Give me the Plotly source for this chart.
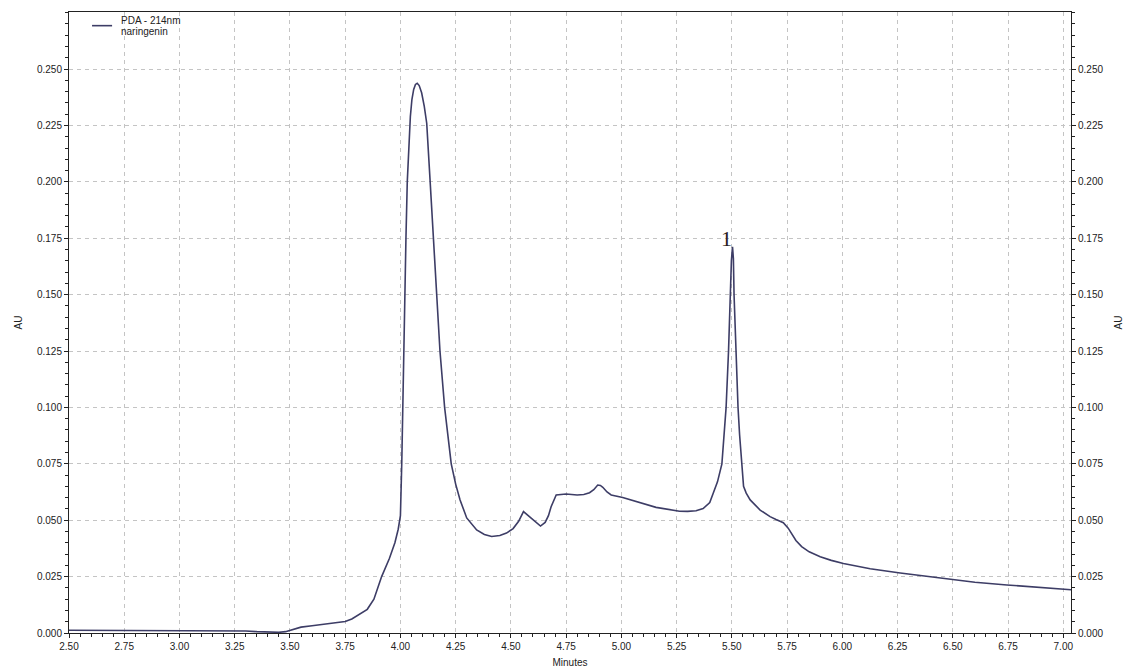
import plotly.graph_objects as go

# Retention time (minutes) and absorbance (AU)
time_min = [2.50, 2.75, 3.00, 3.25, 3.30, 3.35, 3.40, 3.45, 3.48, 3.50, 3.55, 3.60, 3.65, 3.70,
            3.75, 3.78, 3.81, 3.85, 3.88, 3.915, 3.95, 3.975, 3.99, 4.000, 4.006, 4.010, 4.016,
            4.021, 4.025, 4.031, 4.037, 4.045, 4.052, 4.060, 4.068, 4.076, 4.085, 4.096, 4.108,
            4.119, 4.134, 4.149, 4.164, 4.179, 4.200, 4.230, 4.250, 4.270, 4.300, 4.345, 4.380,
            4.413, 4.450, 4.480, 4.510, 4.535, 4.557, 4.580, 4.600, 4.634, 4.655, 4.670, 4.682,
            4.705, 4.750, 4.800, 4.830, 4.856, 4.875, 4.893, 4.905, 4.916, 4.935, 4.954, 5.006,
            5.082, 5.157, 5.263, 5.300, 5.338, 5.370, 5.400, 5.417, 5.435, 5.455, 5.465, 5.474,
            5.485, 5.492, 5.498, 5.503, 5.507, 5.510, 5.520, 5.528, 5.535, 5.544, 5.553, 5.565,
            5.583, 5.628, 5.673, 5.700, 5.733, 5.755, 5.771, 5.790, 5.816, 5.850, 5.900, 5.950,
            6.005, 6.126, 6.262, 6.352, 6.503, 6.600, 6.745, 6.900, 7.016, 7.035]
absorbance = [0.0012, 0.0012, 0.0012, 0.0012, 0.0009, 0.0006, 0.0003, 0.0003, 0.0006, 0.0011,
              0.0026, 0.0032, 0.0038, 0.0043, 0.0051, 0.0062, 0.0080, 0.0105, 0.0150, 0.0250,
              0.0330, 0.0400, 0.0460, 0.0520, 0.0750, 0.1000, 0.1250, 0.1500, 0.1750, 0.2000,
              0.2150, 0.2290, 0.2365, 0.2410, 0.2432, 0.2437, 0.2427, 0.2395, 0.2335, 0.2260,
              0.2010, 0.1750, 0.1500, 0.1250, 0.1000, 0.0750, 0.0660, 0.0590, 0.0510, 0.0457,
              0.0437, 0.0428, 0.0432, 0.0443, 0.0463, 0.0495, 0.0538, 0.0518, 0.0500, 0.0474,
              0.0490, 0.0520, 0.0560, 0.0612, 0.0616, 0.0612, 0.0614, 0.0622, 0.0635, 0.0656,
              0.0654, 0.0646, 0.0625, 0.0612, 0.0601, 0.0578, 0.0557, 0.0540, 0.0539, 0.0542,
              0.0552, 0.0578, 0.0620, 0.0670, 0.0750, 0.0870, 0.1000, 0.1250, 0.1500, 0.1650,
              0.1712, 0.1660, 0.1500, 0.1200, 0.1000, 0.0880, 0.0750, 0.0650, 0.0620, 0.0590,
              0.0545, 0.0516, 0.0503, 0.0489, 0.0465, 0.0442, 0.0410, 0.0383, 0.0360, 0.0338,
              0.0322, 0.0308, 0.0285, 0.0266, 0.0255, 0.0235, 0.0225, 0.0213, 0.0203, 0.0195,
              0.0192]

x_ticks = [2.50, 2.75, 3.00, 3.25, 3.50, 3.75, 4.00, 4.25, 4.50, 4.75, 5.00, 5.25, 5.50,
           5.75, 6.00, 6.25, 6.50, 6.75, 7.00]
y_ticks = [0.000, 0.025, 0.050, 0.075, 0.100, 0.125, 0.150, 0.175, 0.200, 0.225, 0.250]

legend_lines = ["PDA - 214nm", "naringenin"]
peak_label = "1"
peak_time = 5.476
peak_label_y = 0.1748

X_RANGE = [2.50, 7.035]
Y_RANGE = [0.0, 0.2753]

line_col = "#3d3d66"
axis_col = "#222222"
grid_col = "#c4c4c4"
font = dict(family="Arial, Liberation Sans, sans-serif", size=10, color="#222222")

fig = go.Figure()
fig.add_trace(go.Scatter(x=time_min, y=absorbance, mode="lines",
                         line=dict(color=line_col, width=1.6), showlegend=False,
                         hoverinfo="skip"))
fig.add_trace(go.Scatter(x=time_min, y=absorbance, mode="lines", yaxis="y2",
                         line=dict(color="rgba(0,0,0,0)", width=1), showlegend=False,
                         hoverinfo="skip"))

common_y = dict(range=Y_RANGE, tickvals=y_ticks, tickformat=".3f", ticks="outside",
                ticklen=4, tickcolor=axis_col, showline=True, linecolor=axis_col, linewidth=1,
                minor=dict(dtick=0.005, ticks="outside", ticklen=3, tickcolor=axis_col,
                           showgrid=False),
                zeroline=False, tickfont=font, automargin=False, ticklabelstandoff=0)

fig.update_layout(
    width=1127, height=668,
    margin=dict(l=69, r=56, t=12, b=35),
    paper_bgcolor="white", plot_bgcolor="white",
    font=font,
    xaxis=dict(range=X_RANGE, tickvals=x_ticks, tickformat=".2f", ticks="outside", ticklen=4,
               tickcolor=axis_col, showline=True, linecolor=axis_col, linewidth=1, mirror=True,
               showgrid=True, gridcolor=grid_col, griddash="4px,4px", gridwidth=1,
               minor=dict(dtick=0.05, ticks="outside", ticklen=3, tickcolor=axis_col,
                          showgrid=False),
               zeroline=False, tickfont=font, automargin=False,
               title=dict(text="Minutes", font=font, standoff=7)),
    yaxis=dict(**common_y, side="left", showgrid=True, gridcolor=grid_col,
               griddash="4px,4px", gridwidth=1,
               title=dict(text="AU", font=font, standoff=12)),
    yaxis2=dict(**common_y, side="right", overlaying="y", showgrid=False, matches="y",
                title=dict(text="AU", font=font, standoff=12)),
    showlegend=False,
)

# legend drawn as decoration in the top-left corner
fig.add_shape(type="line", xref="paper", yref="paper", x0=0.023, x1=0.043, y0=0.978, y1=0.978,
              line=dict(color=line_col, width=1.6))
fig.add_annotation(xref="paper", yref="paper", x=0.0495, y=0.9865, xanchor="left",
                   yanchor="middle", text=legend_lines[0], showarrow=False, font=font)
fig.add_annotation(xref="paper", yref="paper", x=0.0495, y=0.9678, xanchor="left",
                   yanchor="middle", text=legend_lines[1], showarrow=False, font=font)

fig.add_annotation(x=peak_time, y=peak_label_y, text=peak_label, showarrow=False,
                   xanchor="center", yanchor="middle",
                   font=dict(family="Liberation Serif, Times New Roman, serif", size=22,
                             color="#2a2222"))

fig.write_html("out.html", config={"displayModeBar": False, "staticPlot": True},
               post_script="document.body.style.margin='0';document.body.style.overflow='hidden';")
